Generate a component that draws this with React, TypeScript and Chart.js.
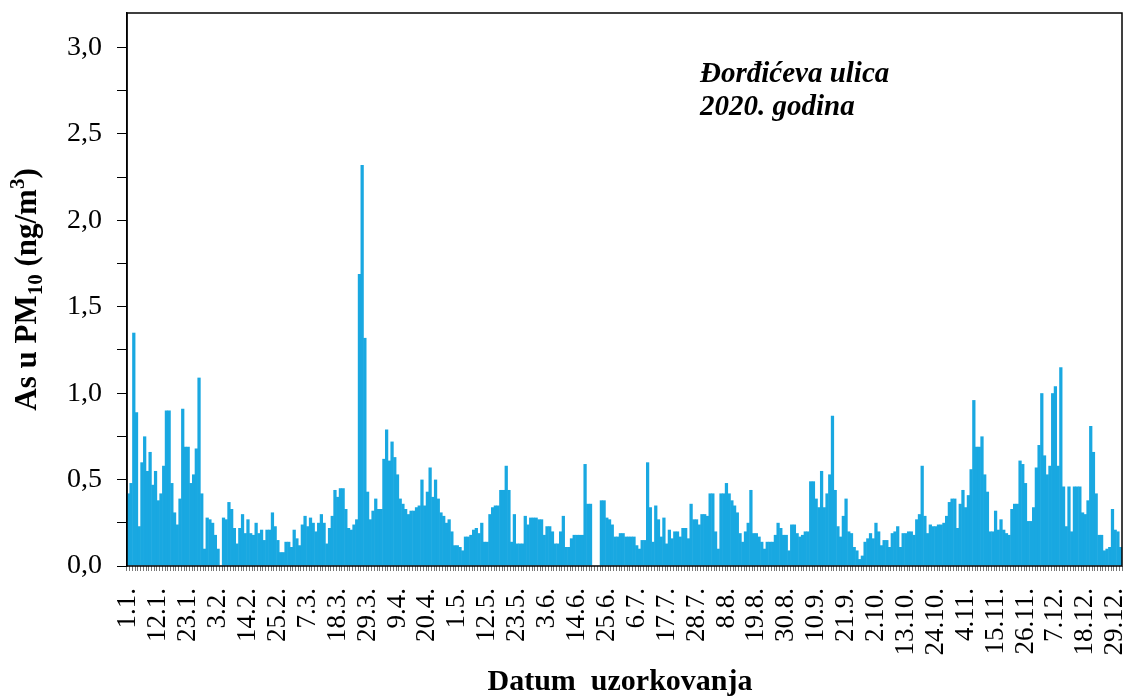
import React, { useEffect, useRef } from "react";
import { Chart, registerables } from "chart.js";

Chart.register(...registerables);

// Daily As in PM10 (ng/m3), 2020, by month (null = no sample)
const jan = [0.42, 0.48, 1.35, 0.89, 0.23, 0.60, 0.75, 0.55, 0.66, 0.47, 0.55, 0.38, 0.42, 0.58, 0.90, 0.90, 0.48, 0.31, 0.24, 0.39, 0.91, 0.69, 0.69, 0.48, 0.53, 0.68, 1.09, 0.42, 0.10, 0.28, 0.27];
const feb = [0.25, 0.18, 0.10, null, 0.28, 0.27, 0.37, 0.33, 0.22, 0.13, 0.22, 0.30, 0.19, 0.27, 0.19, 0.18, 0.25, 0.19, 0.21, 0.15, 0.21, 0.21, 0.31, 0.23, 0.15, 0.08, 0.08, 0.14, 0.14];
const mar = [0.11, 0.21, 0.16, 0.12, 0.24, 0.29, 0.23, 0.28, 0.25, 0.20, 0.25, 0.30, 0.25, 0.13, 0.22, 0.29, 0.44, 0.40, 0.45, 0.45, 0.33, 0.22, 0.21, 0.24, 0.27, 1.69, 2.32, 1.32, 0.43, 0.27, 0.32];
const apr = [0.39, 0.33, 0.33, 0.62, 0.79, 0.61, 0.72, 0.63, 0.53, 0.39, 0.36, 0.33, 0.30, 0.32, 0.32, 0.34, 0.35, 0.50, 0.35, 0.43, 0.57, 0.40, 0.50, 0.39, 0.31, 0.29, 0.25, 0.27, 0.20, 0.12];
const may = [0.12, 0.11, 0.09, 0.17, 0.17, 0.18, 0.21, 0.22, 0.19, 0.25, 0.14, 0.14, 0.30, 0.34, 0.35, 0.35, 0.44, 0.44, 0.58, 0.44, 0.14, 0.30, 0.13, 0.13, 0.13, 0.29, 0.24, 0.28, 0.28, 0.28, 0.27];
const jun = [0.27, 0.18, 0.23, 0.23, 0.20, 0.13, 0.13, 0.20, 0.29, 0.11, 0.11, 0.16, 0.18, 0.18, 0.18, 0.18, 0.59, 0.36, 0.36, null, null, null, 0.38, 0.38, 0.28, 0.27, 0.24, 0.17, 0.17, 0.19];
const jul = [0.19, 0.17, 0.17, 0.17, 0.17, 0.12, 0.10, 0.15, 0.15, 0.60, 0.34, 0.14, 0.35, 0.27, 0.17, 0.28, 0.13, 0.21, 0.16, 0.20, 0.20, 0.17, 0.22, 0.22, 0.16, 0.36, 0.27, 0.27, 0.24, 0.30, 0.30];
const aug = [0.29, 0.42, 0.42, 0.20, 0.10, 0.42, 0.42, 0.48, 0.42, 0.38, 0.35, 0.31, 0.19, 0.14, 0.20, 0.25, 0.44, 0.19, 0.19, 0.17, 0.14, 0.10, 0.14, 0.14, 0.14, 0.18, 0.25, 0.22, 0.18, 0.18, 0.09];
const sep = [0.24, 0.24, 0.19, 0.17, 0.18, 0.20, 0.20, 0.49, 0.49, 0.39, 0.34, 0.55, 0.34, 0.42, 0.53, 0.87, 0.44, 0.23, 0.17, 0.29, 0.39, 0.20, 0.19, 0.11, 0.09, 0.04, 0.06, 0.14, 0.16, 0.19];
const oct = [0.16, 0.25, 0.20, 0.12, 0.15, 0.15, 0.11, 0.19, 0.20, 0.23, 0.11, 0.19, 0.19, 0.20, 0.20, 0.18, 0.27, 0.30, 0.58, 0.29, 0.19, 0.24, 0.23, 0.23, 0.24, 0.24, 0.25, 0.29, 0.37, 0.39, 0.39];
const nov = [0.22, 0.36, 0.44, 0.34, 0.41, 0.56, 0.96, 0.69, 0.69, 0.75, 0.53, 0.43, 0.20, 0.20, 0.32, 0.21, 0.27, 0.21, 0.19, 0.18, 0.33, 0.36, 0.36, 0.61, 0.59, 0.48, 0.26, 0.26, 0.34, 0.57];
const dec = [0.70, 1.00, 0.64, 0.53, 0.58, 1.00, 1.04, 0.58, 1.15, 0.46, 0.23, 0.46, 0.20, 0.46, 0.46, 0.46, 0.31, 0.30, 0.38, 0.81, 0.66, 0.42, 0.18, 0.18, 0.09, 0.10, 0.11, 0.33, 0.21, 0.20, 0.11];

const months = [jan, feb, mar, apr, may, jun, jul, aug, sep, oct, nov, dec];

// Date labels shown on the x axis
const tickLabels = ["1.1.", "12.1.", "23.1.", "3.2.", "14.2.", "25.2.", "7.3.", "18.3.", "29.3.", "9.4.", "20.4.", "1.5.", "12.5.", "23.5.", "3.6.", "14.6.", "25.6.", "6.7.", "17.7.", "28.7.", "8.8.", "19.8.", "30.8.", "10.9.", "21.9.", "2.10.", "13.10.", "24.10.", "4.11.", "15.11.", "26.11.", "7.12.", "18.12.", "29.12."];

// y axis ticks (labelled every 0.5, minor every 0.25)
const yTickValues = [0, 0.25, 0.5, 0.75, 1.0, 1.25, 1.5, 1.75, 2.0, 2.25, 2.5, 2.75, 3.0];
const yMax = 3.2;

const yTitleParts = [
  { text: "As u PM", kind: "main" },
  { text: "10", kind: "sub" },
  { text: " (ng/m", kind: "main" },
  { text: "3", kind: "sup" },
  { text: ")", kind: "main" },
];
const xTitle = "Datum  uzorkovanja";
const noteLines = ["Đorđićeva ulica", "2020. godina"];

const categories: string[] = [];
const values: (number | null)[] = [];
months.forEach((arr, m) => {
  arr.forEach((v, i) => {
    categories.push(`${i + 1}.${m + 1}.`);
    values.push(v);
  });
});

const SERIF = '"Liberation Serif", "Times New Roman", serif';

const zeroPadding = (s: any) => {
  s.paddingTop = 0;
  s.paddingBottom = 0;
  s.paddingLeft = 0;
  s.paddingRight = 0;
};

const textPlugin = {
  id: "textPlugin",
  afterDraw(chart: any) {
    const ctx = chart.ctx as CanvasRenderingContext2D;
    const a = chart.chartArea;
    ctx.save();
    // frame
    ctx.strokeStyle = "#000";
    ctx.lineWidth = 1.5;
    ctx.strokeRect(a.left, a.top, a.right - a.left, a.bottom - a.top);

    ctx.fillStyle = "#000";
    // y title with sub/superscript
    const mainFont = `bold 31px ${SERIF}`;
    const smallFont = `bold 21px ${SERIF}`;
    let total = 0;
    const widths = yTitleParts.map((p) => {
      ctx.font = p.kind === "main" ? mainFont : smallFont;
      const w = ctx.measureText(p.text).width;
      total += w;
      return w;
    });
    ctx.save();
    ctx.translate(26, (a.top + a.bottom) / 2);
    ctx.rotate(-Math.PI / 2);
    ctx.textBaseline = "alphabetic";
    ctx.textAlign = "left";
    let x = -total / 2;
    yTitleParts.forEach((p, i) => {
      ctx.font = p.kind === "main" ? mainFont : smallFont;
      const dy = p.kind === "sub" ? 6 : p.kind === "sup" ? -12 : 0;
      ctx.fillText(p.text, x, 10 + dy);
      x += widths[i];
    });
    ctx.restore();

    // x title
    ctx.font = `bold 30px ${SERIF}`;
    ctx.textAlign = "center";
    ctx.textBaseline = "alphabetic";
    ctx.fillText(xTitle, 620, 690);

    // annotation
    ctx.font = `italic bold 29px ${SERIF}`;
    ctx.textAlign = "left";
    ctx.fillText(noteLines[0], 700, 82);
    ctx.fillText(noteLines[1], 700, 115);
    ctx.restore();
  },
};

export default function App() {
  const ref = useRef<HTMLCanvasElement | null>(null);
  useEffect(() => {
    if (!ref.current) return;
    const chart = new Chart(ref.current, {
      type: "bar",
      data: {
        labels: categories,
        datasets: [
          {
            data: values,
            backgroundColor: "#19a8e1",
            borderWidth: 0,
            barPercentage: 1.2,
            categoryPercentage: 1.0,
          },
        ],
      },
      options: {
        responsive: false,
        animation: false,
        events: [],
        layout: { padding: { top: 13, right: 8, left: 0, bottom: 0 } },
        plugins: { legend: { display: false }, tooltip: { enabled: false }, title: { display: false } },
        scales: {
          x: {
            type: "category",
            offset: true,
            grid: {
              display: true,
              drawOnChartArea: false,
              drawTicks: true,
              tickLength: 5,
              color: "#777",
              offset: true,
            },
            border: { display: false },
            ticks: {
              autoSkip: false,
              minRotation: 90,
              maxRotation: 90,
              padding: 17,
              color: "#000",
              font: { family: SERIF, size: 27 },
              callback: (_v: any, index: number) =>
                tickLabels.includes(categories[index]) ? categories[index] : "",
            },
            afterFit: (s: any) => {
              s.height = 134;
              zeroPadding(s);
            },
          },
          y: {
            type: "linear",
            min: 0,
            max: yMax,
            grid: {
              display: true,
              drawOnChartArea: false,
              drawTicks: true,
              tickLength: 10,
              color: "#000",
            },
            border: { display: true, color: "#000", width: 1.5 },
            afterBuildTicks: (s: any) => {
              s.ticks = yTickValues.map((v) => ({ value: v }));
            },
            ticks: {
              padding: 15,
              color: "#000",
              font: { family: SERIF, size: 28 },
              callback: (v: any) => {
                const n = Number(v);
                return Math.abs(n * 2 - Math.round(n * 2)) < 1e-6 ? n.toFixed(1).replace(".", ",") : "";
              },
            },
            afterFit: (s: any) => {
              s.width = 127;
              zeroPadding(s);
            },
          },
        },
      },
      plugins: [textPlugin],
    });
    return () => chart.destroy();
  }, []);
  return (
    <div style={{ position: "absolute", left: 0, top: 0, width: 1130, height: 700, background: "#fff" }}>
      <canvas ref={ref} width={1130} height={700} style={{ display: "block" }} />
    </div>
  );
}
